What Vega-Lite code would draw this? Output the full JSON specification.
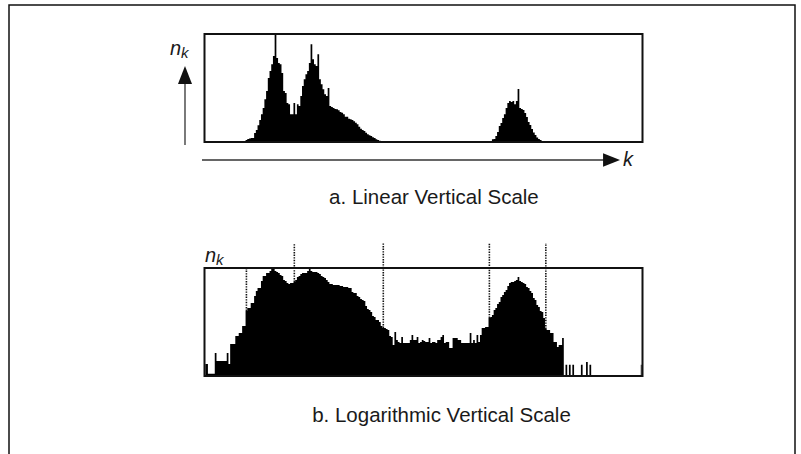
{
  "$schema": "https://vega.github.io/schema/vega-lite/v6.json",
  "width": 786,
  "height": 460,
  "padding": {"left": 9, "top": 5, "right": 6, "bottom": 0},
  "autosize": {"type": "none"},
  "background": "white",
  "config": {"view": {"stroke": "#111", "strokeWidth": 1.5}, "text": {"font": "Liberation Sans", "color": "#1a1a1a"}},
  "data": {"values": [{}]},
  "datasets": {
    "hist": [
      {"k":0,"n_lin":0,"n_log":2.8},{"k":1,"n_lin":0,"n_log":2.8},{"k":2,"n_lin":0,"n_log":1.2},{"k":3,"n_lin":0,"n_log":1.2},
      {"k":4,"n_lin":0,"n_log":1.2},{"k":5,"n_lin":0,"n_log":1.2},{"k":6,"n_lin":0,"n_log":7.1},{"k":7,"n_lin":0,"n_log":3.6},
      {"k":8,"n_lin":0,"n_log":3.6},{"k":9,"n_lin":0,"n_log":3.6},{"k":10,"n_lin":0,"n_log":3.6},{"k":11,"n_lin":0,"n_log":3.6},
      {"k":12,"n_lin":0,"n_log":3.6},{"k":13,"n_lin":0,"n_log":7.1},{"k":14,"n_lin":0,"n_log":2.8},{"k":15,"n_lin":0,"n_log":15.3},
      {"k":16,"n_lin":0,"n_log":15.3},{"k":17,"n_lin":0,"n_log":15.3},{"k":18,"n_lin":0,"n_log":30.3},{"k":19,"n_lin":0,"n_log":30.3},
      {"k":20,"n_lin":0,"n_log":39.1},{"k":21,"n_lin":0,"n_log":39.1},{"k":22,"n_lin":0,"n_log":71.1},{"k":23,"n_lin":0,"n_log":71.1},
      {"k":24,"n_lin":100,"n_log":256},{"k":25,"n_lin":150,"n_log":330},{"k":26,"n_lin":175,"n_log":330},{"k":27,"n_lin":200,"n_log":506},
      {"k":28,"n_lin":200,"n_log":506},{"k":29,"n_lin":450,"n_log":918},{"k":30,"n_lin":600,"n_log":1406},{"k":31,"n_lin":835,"n_log":1816},
      {"k":32,"n_lin":1100,"n_log":1816},{"k":33,"n_lin":1385,"n_log":3300},{"k":34,"n_lin":1700,"n_log":5055},{"k":35,"n_lin":2135,"n_log":5055},
      {"k":36,"n_lin":2550,"n_log":6529},{"k":37,"n_lin":3200,"n_log":6529},{"k":38,"n_lin":3550,"n_log":7743},{"k":39,"n_lin":3885,"n_log":9183},
      {"k":40,"n_lin":4300,"n_log":9183},{"k":41,"n_lin":5400,"n_log":7743},{"k":42,"n_lin":4200,"n_log":7110},{"k":43,"n_lin":3950,"n_log":6529},
      {"k":44,"n_lin":3885,"n_log":5505},{"k":45,"n_lin":3450,"n_log":5055},{"k":46,"n_lin":2550,"n_log":3594},{"k":47,"n_lin":2450,"n_log":3300},
      {"k":48,"n_lin":1950,"n_log":2783},{"k":49,"n_lin":1885,"n_log":2555},{"k":50,"n_lin":1385,"n_log":2783},{"k":51,"n_lin":1385,"n_log":2783},
      {"k":52,"n_lin":1950,"n_log":3030},{"k":53,"n_lin":1385,"n_log":3594},{"k":54,"n_lin":1885,"n_log":4642},{"k":55,"n_lin":1800,"n_log":5055},
      {"k":56,"n_lin":2300,"n_log":5995},{"k":57,"n_lin":2800,"n_log":6529},{"k":58,"n_lin":3135,"n_log":6529},{"k":59,"n_lin":3385,"n_log":6529},
      {"k":60,"n_lin":3550,"n_log":7743},{"k":61,"n_lin":3950,"n_log":9183},{"k":62,"n_lin":4885,"n_log":7743},{"k":63,"n_lin":4135,"n_log":7110},
      {"k":64,"n_lin":3885,"n_log":7110},{"k":65,"n_lin":3800,"n_log":7110},{"k":66,"n_lin":4385,"n_log":6529},{"k":67,"n_lin":3135,"n_log":5995},
      {"k":68,"n_lin":2885,"n_log":5055},{"k":69,"n_lin":2635,"n_log":4642},{"k":70,"n_lin":2385,"n_log":4262},{"k":71,"n_lin":2300,"n_log":3594},
      {"k":72,"n_lin":2700,"n_log":3030},{"k":73,"n_lin":1800,"n_log":2555},{"k":74,"n_lin":1750,"n_log":2555},{"k":75,"n_lin":1700,"n_log":2346},
      {"k":76,"n_lin":1650,"n_log":2346},{"k":77,"n_lin":1635,"n_log":2346},{"k":78,"n_lin":1585,"n_log":2346},{"k":79,"n_lin":1500,"n_log":2154},
      {"k":80,"n_lin":1465,"n_log":2154},{"k":81,"n_lin":1385,"n_log":1978},{"k":82,"n_lin":1265,"n_log":1978},{"k":83,"n_lin":1265,"n_log":1978},
      {"k":84,"n_lin":1165,"n_log":1816},{"k":85,"n_lin":1135,"n_log":1816},{"k":86,"n_lin":1100,"n_log":1292},{"k":87,"n_lin":1035,"n_log":1186},
      {"k":88,"n_lin":965,"n_log":1186},{"k":89,"n_lin":885,"n_log":918},{"k":90,"n_lin":765,"n_log":843},{"k":91,"n_lin":665,"n_log":711},
      {"k":92,"n_lin":600,"n_log":653},{"k":93,"n_lin":550,"n_log":599},{"k":94,"n_lin":465,"n_log":391},{"k":95,"n_lin":385,"n_log":303},
      {"k":96,"n_lin":335,"n_log":278},{"k":97,"n_lin":300,"n_log":235},{"k":98,"n_lin":235,"n_log":167},{"k":99,"n_lin":200,"n_log":153},
      {"k":100,"n_lin":135,"n_log":119},{"k":101,"n_lin":100,"n_log":119},{"k":102,"n_lin":65,"n_log":100},{"k":103,"n_lin":50,"n_log":71.1},
      {"k":104,"n_lin":25,"n_log":59.9},{"k":105,"n_lin":0,"n_log":59.9},{"k":106,"n_lin":0,"n_log":55},{"k":107,"n_lin":0,"n_log":50.5},
      {"k":108,"n_lin":0,"n_log":30.3},{"k":109,"n_lin":0,"n_log":27.8},{"k":110,"n_lin":0,"n_log":14.1},{"k":111,"n_lin":0,"n_log":42.6},
      {"k":112,"n_lin":0,"n_log":21.5},{"k":113,"n_lin":0,"n_log":18.2},{"k":114,"n_lin":0,"n_log":16.7},{"k":115,"n_lin":0,"n_log":27.8},
      {"k":116,"n_lin":0,"n_log":16.7},{"k":117,"n_lin":0,"n_log":16.7},{"k":118,"n_lin":0,"n_log":16.7},{"k":119,"n_lin":0,"n_log":16.7},
      {"k":120,"n_lin":0,"n_log":21.5},{"k":121,"n_lin":0,"n_log":33},{"k":122,"n_lin":0,"n_log":21.5},{"k":123,"n_lin":0,"n_log":21.5},
      {"k":124,"n_lin":0,"n_log":27.8},{"k":125,"n_lin":0,"n_log":16.7},{"k":126,"n_lin":0,"n_log":18.2},{"k":127,"n_lin":0,"n_log":21.5},
      {"k":128,"n_lin":0,"n_log":19.8},{"k":129,"n_lin":0,"n_log":18.2},{"k":130,"n_lin":0,"n_log":18.2},{"k":131,"n_lin":0,"n_log":25.5},
      {"k":132,"n_lin":0,"n_log":16.7},{"k":133,"n_lin":0,"n_log":18.2},{"k":134,"n_lin":0,"n_log":18.2},{"k":135,"n_lin":0,"n_log":16.7},
      {"k":136,"n_lin":0,"n_log":21.5},{"k":137,"n_lin":0,"n_log":21.5},{"k":138,"n_lin":0,"n_log":27.8},{"k":139,"n_lin":0,"n_log":33},
      {"k":140,"n_lin":0,"n_log":16.7},{"k":141,"n_lin":0,"n_log":18.2},{"k":142,"n_lin":0,"n_log":18.2},{"k":143,"n_lin":0,"n_log":10.9},
      {"k":144,"n_lin":0,"n_log":10.9},{"k":145,"n_lin":0,"n_log":25.5},{"k":146,"n_lin":0,"n_log":25.5},{"k":147,"n_lin":0,"n_log":25.5},
      {"k":148,"n_lin":0,"n_log":21.5},{"k":149,"n_lin":0,"n_log":21.5},{"k":150,"n_lin":0,"n_log":16.7},{"k":151,"n_lin":0,"n_log":16.7},
      {"k":152,"n_lin":0,"n_log":16.7},{"k":153,"n_lin":0,"n_log":16.7},{"k":154,"n_lin":0,"n_log":16.7},{"k":155,"n_lin":0,"n_log":39.1},
      {"k":156,"n_lin":0,"n_log":16.7},{"k":157,"n_lin":0,"n_log":21.5},{"k":158,"n_lin":0,"n_log":16.7},{"k":159,"n_lin":0,"n_log":33},
      {"k":160,"n_lin":0,"n_log":18.2},{"k":161,"n_lin":0,"n_log":33},{"k":162,"n_lin":0,"n_log":59.9},{"k":163,"n_lin":0,"n_log":59.9},
      {"k":164,"n_lin":0,"n_log":65.3},{"k":165,"n_lin":0,"n_log":65.3},{"k":166,"n_lin":0,"n_log":141},{"k":167,"n_lin":50,"n_log":153},
      {"k":168,"n_lin":135,"n_log":182},{"k":169,"n_lin":150,"n_log":278},{"k":170,"n_lin":300,"n_log":330},{"k":171,"n_lin":500,"n_log":464},
      {"k":172,"n_lin":800,"n_log":551},{"k":173,"n_lin":950,"n_log":843},{"k":174,"n_lin":1200,"n_log":1000},{"k":175,"n_lin":1385,"n_log":1292},
      {"k":176,"n_lin":1700,"n_log":1531},{"k":177,"n_lin":1950,"n_log":2154},{"k":178,"n_lin":2050,"n_log":2783},{"k":179,"n_lin":2000,"n_log":3030},
      {"k":180,"n_lin":2050,"n_log":3030},{"k":181,"n_lin":1885,"n_log":3300},{"k":182,"n_lin":2050,"n_log":3594},{"k":183,"n_lin":2650,"n_log":4642},
      {"k":184,"n_lin":1700,"n_log":3300},{"k":185,"n_lin":1650,"n_log":3030},{"k":186,"n_lin":1600,"n_log":2783},{"k":187,"n_lin":1450,"n_log":2555},
      {"k":188,"n_lin":1250,"n_log":1978},{"k":189,"n_lin":1000,"n_log":1816},{"k":190,"n_lin":850,"n_log":1406},{"k":191,"n_lin":650,"n_log":1186},
      {"k":192,"n_lin":475,"n_log":774},{"k":193,"n_lin":350,"n_log":653},{"k":194,"n_lin":225,"n_log":426},{"k":195,"n_lin":150,"n_log":359},
      {"k":196,"n_lin":100,"n_log":256},{"k":197,"n_lin":50,"n_log":235},{"k":198,"n_lin":0,"n_log":141},{"k":199,"n_lin":0,"n_log":55},
      {"k":200,"n_lin":0,"n_log":50.5},{"k":201,"n_lin":0,"n_log":50.5},{"k":202,"n_lin":0,"n_log":39.1},{"k":203,"n_lin":0,"n_log":39.1},
      {"k":204,"n_lin":0,"n_log":18.2},{"k":205,"n_lin":0,"n_log":18.2},{"k":206,"n_lin":0,"n_log":11.9},{"k":207,"n_lin":0,"n_log":14.1},
      {"k":208,"n_lin":0,"n_log":14.1},{"k":209,"n_lin":0,"n_log":25.5},{"k":210,"n_lin":0,"n_log":1},{"k":211,"n_lin":0,"n_log":2.6},
      {"k":212,"n_lin":0,"n_log":1},{"k":213,"n_lin":0,"n_log":2.6},{"k":214,"n_lin":0,"n_log":1},{"k":215,"n_lin":0,"n_log":2.6},
      {"k":216,"n_lin":0,"n_log":1},{"k":217,"n_lin":0,"n_log":1},{"k":218,"n_lin":0,"n_log":1},{"k":219,"n_lin":0,"n_log":1},
      {"k":220,"n_lin":0,"n_log":2.6},{"k":221,"n_lin":0,"n_log":1},{"k":222,"n_lin":0,"n_log":1},{"k":223,"n_lin":0,"n_log":3.3},
      {"k":224,"n_lin":0,"n_log":1},{"k":225,"n_lin":0,"n_log":2.6},{"k":226,"n_lin":0,"n_log":1},{"k":227,"n_lin":0,"n_log":1},
      {"k":228,"n_lin":0,"n_log":1},{"k":229,"n_lin":0,"n_log":1},{"k":230,"n_lin":0,"n_log":1},{"k":231,"n_lin":0,"n_log":1},
      {"k":232,"n_lin":0,"n_log":1},{"k":233,"n_lin":0,"n_log":1},{"k":234,"n_lin":0,"n_log":1},{"k":235,"n_lin":0,"n_log":1},
      {"k":236,"n_lin":0,"n_log":1},{"k":237,"n_lin":0,"n_log":1},{"k":238,"n_lin":0,"n_log":1},{"k":239,"n_lin":0,"n_log":1},
      {"k":240,"n_lin":0,"n_log":1},{"k":241,"n_lin":0,"n_log":1},{"k":242,"n_lin":0,"n_log":1},{"k":243,"n_lin":0,"n_log":1},
      {"k":244,"n_lin":0,"n_log":1},{"k":245,"n_lin":0,"n_log":1},{"k":246,"n_lin":0,"n_log":1},{"k":247,"n_lin":0,"n_log":1},
      {"k":248,"n_lin":0,"n_log":1},{"k":249,"n_lin":0,"n_log":1},{"k":250,"n_lin":0,"n_log":1},{"k":251,"n_lin":0,"n_log":1},
      {"k":252,"n_lin":0,"n_log":1},{"k":253,"n_lin":0,"n_log":1},{"k":254,"n_lin":0,"n_log":1},{"k":255,"n_lin":0,"n_log":2.6}
    ]
  },
  "layer": [
    {
      "layer": [
        {
          "data": {"name": "hist"},
          "mark": {"type": "area", "interpolate": "step", "color": "black", "opacity": 1},
          "encoding": {
            "x": {"field": "k", "type": "quantitative", "scale": {"domain": [-0.5, 255.5], "range": [195.5, 633.5], "nice": false, "zero": false}, "axis": null},
            "y": {"field": "n_lin", "type": "quantitative", "stack": null, "scale": {"domain": [0, 5400], "range": [137, 29], "nice": false}, "axis": null},
            "y2": {"datum": 0}
          }
        },
        {
          "mark": {"type": "rect", "filled": false, "stroke": "#111", "strokeWidth": 2},
          "encoding": {
            "x": {"datum": -0.5, "type": "quantitative"},
            "x2": {"datum": 255.5},
            "y": {"datum": 0, "type": "quantitative"},
            "y2": {"datum": 5400}
          }
        },
        {
          "mark": {"type": "rule", "color": "#333", "strokeWidth": 1.3},
          "encoding": {
            "x": {"datum": -11.9, "type": "quantitative"},
            "y": {"datum": -150, "type": "quantitative"},
            "y2": {"datum": 3100}
          }
        },
        {
          "mark": {"type": "point", "shape": "M0,-1L-0.78,1L0.78,1Z", "size": 324, "filled": true, "color": "#111", "opacity": 1},
          "encoding": {
            "x": {"datum": -11.9, "type": "quantitative"},
            "y": {"datum": 3350, "type": "quantitative"}
          }
        },
        {
          "mark": {"type": "rule", "color": "#333", "strokeWidth": 1.3},
          "encoding": {
            "x": {"datum": -1.96, "type": "quantitative"},
            "x2": {"datum": 234.2},
            "y": {"datum": -900, "type": "quantitative"}
          }
        },
        {
          "mark": {"type": "point", "shape": "M1,0L-1,-0.78L-1,0.78Z", "size": 289, "filled": true, "color": "#111", "opacity": 1},
          "encoding": {
            "x": {"datum": 237.4, "type": "quantitative"},
            "y": {"datum": -900, "type": "quantitative"}
          }
        },
        {
          "mark": {"type": "text", "text": "k", "fontSize": 20, "fontStyle": "italic", "align": "left", "baseline": "alphabetic"},
          "encoding": {
            "x": {"datum": 244.1, "type": "quantitative"},
            "y": {"datum": -1200, "type": "quantitative"}
          }
        },
        {
          "mark": {"type": "text", "text": "n", "fontSize": 20, "fontStyle": "italic", "align": "left", "baseline": "alphabetic"},
          "encoding": {
            "x": {"datum": -20.7, "type": "quantitative"},
            "y": {"datum": 4350, "type": "quantitative"}
          }
        },
        {
          "mark": {"type": "text", "text": "k", "fontSize": 15, "fontStyle": "italic", "align": "left", "baseline": "alphabetic"},
          "encoding": {
            "x": {"datum": -14.2, "type": "quantitative"},
            "y": {"datum": 4200, "type": "quantitative"}
          }
        },
        {
          "mark": {"type": "text", "text": "a. Linear Vertical Scale", "fontSize": 20.5, "align": "center", "baseline": "alphabetic"},
          "encoding": {
            "x": {"datum": 133.6, "type": "quantitative"},
            "y": {"datum": -3100, "type": "quantitative"}
          }
        }
      ]
    },
    {
      "layer": [
        {
          "data": {"name": "hist"},
          "mark": {"type": "area", "interpolate": "step", "color": "black", "opacity": 1},
          "encoding": {
            "x": {"field": "k", "type": "quantitative", "scale": {"domain": [-0.5, 255.5], "range": [195.5, 633.5], "nice": false, "zero": false}, "axis": null},
            "y": {"field": "n_log", "type": "quantitative", "stack": null, "scale": {"type": "log", "domain": [1, 10000], "range": [371, 263], "nice": false}, "axis": null},
            "y2": {"datum": 1}
          }
        },
        {
          "mark": {"type": "rect", "filled": false, "stroke": "#111", "strokeWidth": 2},
          "encoding": {
            "x": {"datum": -0.5, "type": "quantitative"},
            "x2": {"datum": 255.5},
            "y": {"datum": 1, "type": "quantitative"},
            "y2": {"datum": 10000}
          }
        },
        {
          "data": {"name": "hist"},
          "transform": [{"filter": "datum.k === 24"}],
          "mark": {"type": "rule", "color": "#111", "strokeWidth": 1.6, "strokeDash": [1.4, 1.2]},
          "encoding": {
            "x": {"field": "k", "type": "quantitative"},
            "y": {"field": "n_log", "type": "quantitative"},
            "y2": {"datum": 10000}
          }
        },
        {
          "data": {"name": "hist"},
          "transform": [{"filter": {"field": "k", "oneOf": [52, 104, 166, 199]}}],
          "mark": {"type": "rule", "color": "#111", "strokeWidth": 1.6, "strokeDash": [1.4, 1.2]},
          "encoding": {
            "x": {"field": "k", "type": "quantitative"},
            "y": {"field": "n_log", "type": "quantitative"},
            "y2": {"datum": 84300}
          }
        },
        {
          "mark": {"type": "text", "text": "n", "fontSize": 20, "fontStyle": "italic", "align": "left", "baseline": "alphabetic"},
          "encoding": {
            "x": {"datum": -0.2, "type": "quantitative"},
            "y": {"datum": 16700, "type": "quantitative"}
          }
        },
        {
          "mark": {"type": "text", "text": "k", "fontSize": 15, "fontStyle": "italic", "align": "left", "baseline": "alphabetic"},
          "encoding": {
            "x": {"datum": 6.2, "type": "quantitative"},
            "y": {"datum": 12900, "type": "quantitative"}
          }
        },
        {
          "mark": {"type": "text", "text": "b. Logarithmic Vertical Scale", "fontSize": 20.5, "align": "center", "baseline": "alphabetic"},
          "encoding": {
            "x": {"datum": 138.0, "type": "quantitative"},
            "y": {"datum": 0.0198, "type": "quantitative"}
          }
        }
      ]
    }
  ],
  "resolve": {"scale": {"y": "independent"}}
}
